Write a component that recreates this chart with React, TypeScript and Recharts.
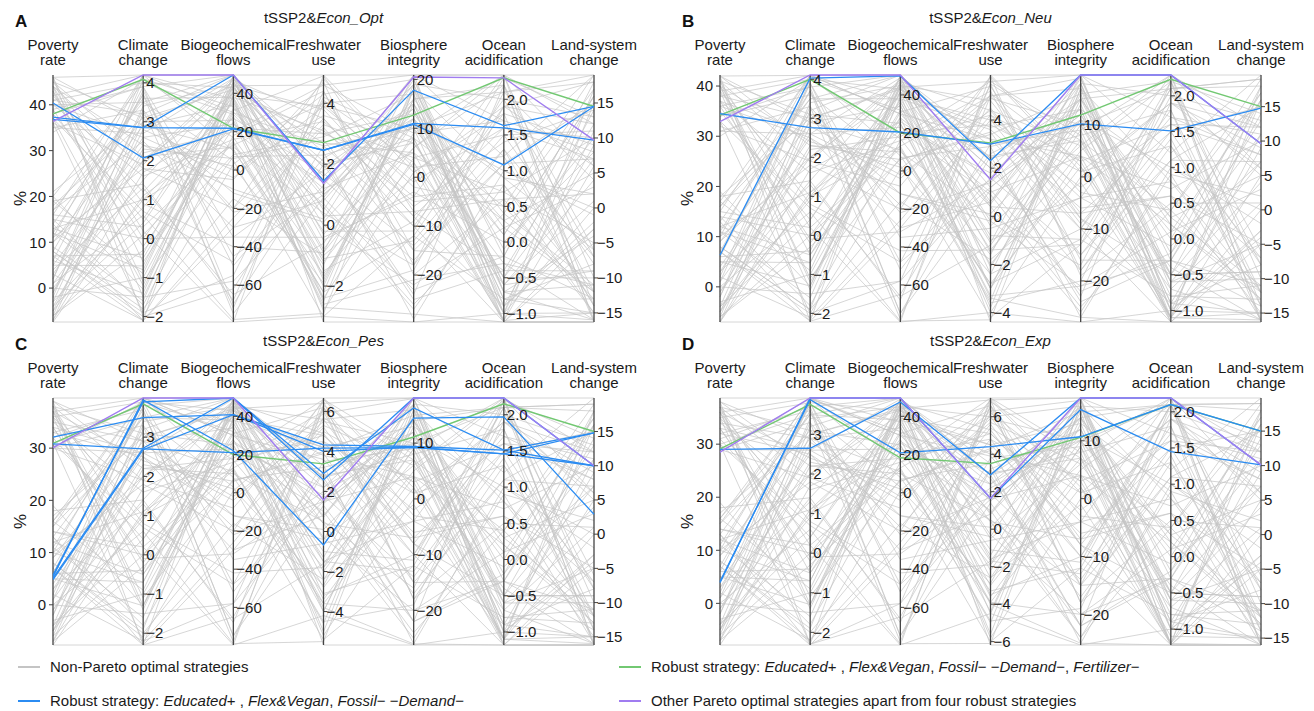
import { LineChart, Line, XAxis, YAxis, ReferenceLine, ReferenceDot } from "recharts";

const FONT = '"Liberation Sans", Arial, sans-serif';
const GRAY = "#c4c4c4";
const BLUE = "#2b8cf2";
const GREEN = "#72c872";
const PURPLE = "#a07cf0";
const AXIS = "#444";

const DIMENSIONS = [
  ["Poverty", "rate"],
  ["Climate", "change"],
  ["Biogeochemical", "flows"],
  ["Freshwater", "use"],
  ["Biosphere", "integrity"],
  ["Ocean", "acidification"],
  ["Land-system", "change"],
];
const DECIMALS = [0, 0, 0, 0, 0, 1, 0];

// axis ranges (min/max of each dimension) per scenario
const DOMAIN_OPT = [[-7.4, 46.5], [-2.14, 4.2], [-79.3, 49.6], [-3.18, 4.93], [-29.6, 20.9], [-1.12, 2.34], [-16.3, 19.0]];
const DOMAIN_NEU = [[-7.0, 42.2], [-2.22, 4.11], [-79.5, 50.5], [-4.39, 5.87], [-27.9, 19.6], [-1.16, 2.29], [-16.3, 19.6]];
const DOMAIN_PES = [[-7.7, 39.6], [-2.3, 4.0], [-79.7, 49.6], [-5.67, 6.67], [-26.2, 18.1], [-1.18, 2.23], [-16.2, 19.9]];
const DOMAIN_EXP = [[-7.85, 38.7], [-2.32, 3.92], [-79.7, 49.6], [-6.18, 7.0], [-25.3, 17.4], [-1.22, 2.19], [-16.0, 19.8]];

const OCEAN_TICKS = [-1, -0.5, 0, 0.5, 1, 1.5, 2];
const LAND_TICKS = [-15, -10, -5, 0, 5, 10, 15];
const BIOGEO_TICKS = [-60, -40, -20, 0, 20, 40];
const TICKS_OPT = [[0, 10, 20, 30, 40], [-2, -1, 0, 1, 2, 3, 4], BIOGEO_TICKS, [-2, 0, 2, 4], [-20, -10, 0, 10, 20], OCEAN_TICKS, LAND_TICKS];
const TICKS_NEU = [[0, 10, 20, 30, 40], [-2, -1, 0, 1, 2, 3, 4], BIOGEO_TICKS, [-4, -2, 0, 2, 4], [-20, -10, 0, 10], OCEAN_TICKS, LAND_TICKS];
const TICKS_PES = [[0, 10, 20, 30], [-2, -1, 0, 1, 2, 3], BIOGEO_TICKS, [-4, -2, 0, 2, 4, 6], [-20, -10, 0, 10], OCEAN_TICKS, LAND_TICKS];
const TICKS_EXP = [[0, 10, 20, 30], [-2, -1, 0, 1, 2, 3], BIOGEO_TICKS, [-6, -4, -2, 0, 2, 4, 6], [-20, -10, 0, 10], OCEAN_TICKS, LAND_TICKS];

// non-Pareto strategies (sample of the background mesh)
const GRAY_OPT = [
  [44, -1.5, 30, 1.2, 5, 0.3, -12], [41, 3.2, -20, 3.5, -8, 1.6, 10], [38, 0.5, 45, -1.8, 15, -0.8, -15],
  [45, 2.1, 12, 0.4, -18, 2.1, 4], [36, -1.9, -55, 4.2, 8, -1.0, 17], [42, 1.2, 38, -2.5, 18, 0.9, -6],
  [39, 3.9, -70, 2.0, -25, -0.4, 12], [46, -0.6, 22, 3.0, 2, 1.2, -14], [35, 2.7, 48, -0.5, -3, 0.0, 8],
  [43, 0.0, -35, 1.8, 12, -0.9, -2], [40, 3.5, 5, -3.0, -12, 1.9, 18], [37, -1.2, 41, 0.9, 19, -0.6, -9],
  [44, 1.8, -5, 4.7, -20, 0.6, 2], [34, 4.1, 33, -1.2, 6, 2.2, -16], [46, -2.0, -62, 2.6, 10, -1.1, 6],
  [18, 3.0, 26, -2.0, 16, 0.4, -11], [12, -0.8, 44, 3.8, -6, 1.4, 14], [5, 2.4, -10, 0.2, 20, -0.7, -4],
  [-3, 0.8, 36, -2.8, 1, 1.8, 9], [15, -1.7, 18, 4.4, -15, -0.2, -13], [8, 3.7, -45, 1.0, 13, 0.1, 16],
  [0, 1.5, 47, -1.5, -9, 2.0, -7], [-6, -0.3, 8, 2.9, 17, -1.0, 0], [20, 4.0, 29, 0.6, -27, 0.8, -15],
  [3, -2.1, -25, 3.3, 4, 1.5, 11], [10, 2.0, 40, -0.8, 11, -0.5, -10], [-1, 3.3, -72, 4.0, -2, 0.5, 19],
  [16, 0.3, 15, -2.2, 19, -0.9, -3], [6, -1.4, 43, 1.5, -17, 1.1, 7], [-5, 2.8, 0, 3.6, 7, -0.3, -16],
  [13, 1.0, 35, -0.2, -11, 2.3, 13], [2, 3.8, -50, 2.2, 14, -0.8, -8], [19, -0.9, 46, 0.0, -22, 0.2, 3],
  [-4, 2.2, 20, 4.6, 9, 1.7, -12], [9, -1.8, -15, -1.0, 0, -1.1, 15], [14, 3.6, 38, 3.1, -5, 0.7, -5],
  [1, 0.6, -78, -2.9, 18, -0.1, 10], [-7, 1.7, 27, 1.7, -14, 1.3, -14], [11, 4.2, 10, -1.6, 3, -0.6, 1],
  [7, -0.4, 49, 2.4, -29, 1.0, -1], [17, 2.5, -30, 0.8, 16, 2.1, 18], [-2, -1.0, 31, 4.9, -7, -0.4, -9],
  [4, 1.3, -65, -0.6, 12, 0.3, 5], [21, 3.1, 42, 2.7, 5, -1.0, -16], [-6, 0.1, 14, -2.4, -19, 1.9, 12],
  [40, 2.6, 24, 1.4, 14, -0.7, -11], [12, -1.6, 39, 3.9, -1, 1.6, 7], [45, 0.9, -40, -0.9, 8, 0.5, -13],
  [-3, 3.4, 45, 2.1, -24, 2.2, -6], [8, -2.0, 3, 4.3, 20, -0.2, 16],
  [46, 4.2, 49.6, -3.18, -29.6, -1.12, -16.3], [-7.4, -2.14, -79.3, 4.93, 20.9, 2.34, 19], [42, 4.2, 49.6, 0.5, 20.9, 2.34, 6],
  [38, 3.9, 49.6, 1.9, 8, -1.12, -16.3], [44, 0.2, -79.3, -3.0, -29.6, -1.0, -15], [-7, 3.0, 44, 4.6, 20.9, 1.2, 19],
  [2, 4.2, 30, 2.6, -10, -1.12, -16.3], [14, -2.1, 49.6, -0.3, 6, 2.34, 12], [40, 1.6, 16, 3.4, -4, 0.8, -12],
  [35, 3.3, -22, 1.1, 15, -0.6, 4], [46, 2.9, 34, -1.1, -13, 1.5, -8], [43, -1.1, 7, 2.3, 10, 0.1, 16],
  [37, 0.7, -48, 4.1, 3, -1.1, -15], [41, 4.0, 43, 1.6, 19, 2.0, 13], [39, -0.2, 25, -2.6, -21, -0.3, -11],
  [45, 3.1, -12, 0.1, 11, 1.0, 0], [36, 1.9, 47, 3.5, -8, -0.9, 9], [44, 2.4, 2, -1.9, 16, 2.2, -14],
  [-7.4, 1.1, 21, 0.7, -26, 0.4, 17], [17, 3.5, 49.6, 4.93, 2, -1.12, -16.3], [0, -1.5, -58, 1.3, 20.9, 1.7, 8],
  [10, 2.9, 11, -2.2, -12, -0.8, -13], [-4, 0.4, 41, 3.0, 13, 0.9, 2], [6, 3.9, -35, -0.4, -4, 2.34, -16.3],
  [13, -0.5, 32, 2.0, 7, -0.5, 14], [19, 1.4, -68, 4.4, -18, 1.3, -7], [-2, 4.1, 17, -1.3, 18, -1.0, 11],
  [8, -1.9, 46, 0.3, -7, 0.6, -15], [3, 2.6, -4, 3.9, 10, 2.1, 19], [15, 0.0, 28, -2.7, -28, -1.12, -3],
  [-6, 3.2, 49.6, 1.9, 15, 0.2, -12], [11, 1.8, -20, 4.8, 1, 1.9, 6], [20, -1.3, 38, -0.9, 20.9, -0.7, -16],
  [-1, 2.3, 6, 2.8, -15, 1.1, 15], [5, -0.7, 44, -1.7, 9, 2.34, -10], [12, 3.7, -75, 0.9, -23, -0.2, 18],
  [-5, 1.0, 13, 4.0, 17, -1.12, -5], [16, 4.2, 37, -2.4, 4, 0.7, 10], [7, -2.1, -30, 3.2, -10, 1.8, -16.3],
  [1, 2.0, 48, 1.0, 12, -0.5, 7],
];
const GRAY_NEU = [
  [41, -1.2, 28, 1.0, 4, 0.2, -13], [38, 3.0, -18, 4.5, -9, 1.7, 11], [35, 0.4, 46, -3.0, 14, -0.9, -15],
  [42, 2.3, 10, 0.0, -17, 2.0, 5], [33, -2.0, -58, 5.5, 7, -1.1, 18], [39, 1.0, 40, -3.8, 17, 0.8, -7],
  [36, 3.8, -75, 2.5, -24, -0.3, 13], [40, -0.5, 20, 3.8, 1, 1.3, -12], [31, 2.6, 49, -1.0, -4, -0.1, 7],
  [37, -0.1, -32, 1.5, 11, -1.0, -3], [34, 3.6, 3, -4.2, -13, 2.1, 19], [39, -1.4, 42, 0.5, 18, -0.5, -9],
  [41, 1.9, -8, 5.8, -19, 0.5, 1], [30, 4.0, 32, -2.0, 5, 2.2, -16], [42, -2.2, -65, 3.0, 9, -1.1, 5],
  [16, 3.1, 25, -3.0, 15, 0.3, -11], [11, -0.7, 45, 4.8, -7, 1.5, 15], [4, 2.5, -12, -0.2, 19, -0.6, -5],
  [-4, 0.9, 35, -4.0, 0, 1.9, 9], [14, -1.8, 16, 5.2, -16, -0.3, -14], [7, 3.7, -48, 1.2, 12, 0.0, 17],
  [-1, 1.4, 48, -2.4, -10, 2.1, -8], [-6, -0.3, 6, 3.4, 16, -1.1, 0], [17, 4.1, 30, 0.4, -26, 0.9, -16],
  [2, -2.1, -26, 4.2, 3, 1.6, 12], [9, 2.0, 41, -1.5, 10, -0.6, -10], [-2, 3.3, -78, 5.0, -3, 0.4, 19],
  [15, 0.2, 13, -3.5, 18, -1.0, -4], [5, -1.3, 44, 2.0, -18, 1.1, 7], [-5, 2.8, -2, 4.4, 6, -0.4, -16],
  [12, 1.1, 36, -0.8, -12, 2.2, 14], [1, 3.9, -52, 2.6, 13, -0.9, -8], [17, -0.9, 47, -0.2, -21, 0.1, 3],
  [-5, 2.2, 18, 5.6, 8, 1.8, -12], [8, -1.9, -16, -1.8, -1, -1.1, 16], [13, 3.5, 38, 3.6, -6, 0.6, -5],
  [0, 0.6, -79, -4.3, 17, -0.2, 11], [-7, 1.7, 26, 1.6, -15, 1.4, -14], [10, 4.1, 8, -2.8, 2, -0.7, 1],
  [6, -0.4, 50, 2.9, -27, 1.0, -2], [36, 2.5, -30, 0.6, 15, 2.1, 18], [-3, -1.0, 31, 5.4, -8, -0.5, -9],
  [3, 1.3, -66, -1.2, 11, 0.3, 5], [18, 3.0, 43, 3.2, 4, -1.1, -16], [-6, 0.0, 12, -3.6, -20, 1.9, 12],
  [37, 2.6, 23, 1.8, 13, -0.8, -11], [11, -1.6, 39, 4.0, -2, 1.6, 8], [40, 0.8, -42, -1.4, 7, 0.4, -13],
  [-4, 3.4, 45, 2.3, -23, 2.2, -6], [7, -2.0, 1, 5.0, 19, -0.3, 16],
  [42, 4.1, 50.5, -4.39, -27.9, -1.16, -16.3], [-7, -2.22, -79.5, 5.87, 19.6, 2.29, 19.6], [39, 4.1, 50.5, 0.6, 19.6, 2.29, 6],
  [34, 3.8, 50.5, 2.4, 8, -1.16, -16.3], [41, 0.2, -79.5, -4.0, -27.9, -1.0, -15], [-7, 3.0, 44, 5.6, 19.6, 1.2, 19.6],
  [2, 4.1, 30, 3.2, -10, -1.16, -16.3], [13, -2.2, 50.5, -0.4, 6, 2.29, 12], [37, 1.6, 16, 4.2, -4, 0.8, -12],
  [31, 3.3, -22, 1.4, 15, -0.6, 4], [42, 2.9, 34, -1.4, -13, 1.5, -8], [40, -1.1, 7, 2.9, 10, 0.1, 16],
  [33, 0.7, -48, 5.1, 3, -1.1, -15], [38, 4.0, 43, 2.0, 18, 2.0, 13], [36, -0.2, 25, -3.3, -21, -0.3, -11],
  [41, 3.1, -12, 0.1, 11, 1.0, 0], [32, 1.9, 47, 4.4, -8, -0.9, 9], [40, 2.4, 2, -2.4, 16, 2.2, -14],
  [-7, 1.1, 21, 0.9, -25, 0.4, 17], [16, 3.5, 50.5, 5.87, 2, -1.16, -16.3], [0, -1.5, -58, 1.6, 19.6, 1.7, 8],
  [9, 2.9, 11, -2.8, -12, -0.8, -13], [-4, 0.4, 41, 3.7, 13, 0.9, 2], [6, 3.9, -35, -0.5, -4, 2.29, -16.3],
  [12, -0.5, 32, 2.5, 7, -0.5, 14], [18, 1.4, -68, 5.5, -18, 1.3, -7], [-2, 4.0, 17, -1.6, 18, -1.0, 11],
  [8, -1.9, 46, 0.4, -7, 0.6, -15], [3, 2.6, -4, 4.9, 10, 2.1, 19], [14, 0.0, 28, -3.4, -27, -1.16, -3],
  [-6, 3.2, 50.5, 2.4, 15, 0.2, -12], [10, 1.8, -20, 5.8, 1, 1.9, 6], [19, -1.3, 38, -1.1, 19.6, -0.7, -16],
  [-1, 2.3, 6, 3.5, -15, 1.1, 15], [5, -0.7, 44, -2.1, 9, 2.29, -10], [11, 3.7, -75, 1.1, -22, -0.2, 18],
  [-5, 1.0, 13, 5.0, 17, -1.16, -5], [15, 4.1, 37, -3.0, 4, 0.7, 10], [7, -2.2, -30, 4.0, -10, 1.8, -16.3],
  [1, 2.0, 48, 1.2, 12, -0.5, 7],
];
const GRAY_PES = [
  [38, -1.3, 27, 1.5, 4, 0.2, -13], [35, 2.9, -18, 5.2, -8, 1.7, 11], [32, 0.4, 46, -4.0, 13, -0.9, -15],
  [39, 2.2, 10, 0.5, -16, 2.0, 5], [31, -2.2, -58, 6.3, 7, -1.1, 18], [36, 1.0, 40, -5.0, 16, 0.8, -7],
  [33, 3.7, -75, 3.0, -22, -0.3, 13], [37, -0.5, 20, 4.5, 1, 1.3, -12], [30, 2.6, 49, -1.5, -4, -0.1, 7],
  [34, -0.1, -32, 2.0, 10, -1.0, -3], [31, 3.5, 3, -5.4, -12, 2.1, 19], [36, -1.4, 42, 0.8, 17, -0.5, -9],
  [38, 1.9, -8, 6.5, -18, 0.5, 1], [30, 3.9, 32, -2.8, 5, 2.2, -16], [39, -2.3, -65, 3.5, 9, -1.1, 5],
  [15, 3.1, 25, -4.0, 14, 0.3, -11], [10, -0.7, 45, 5.6, -7, 1.5, 15], [4, 2.5, -12, -0.4, 18, -0.6, -5],
  [-4, 0.9, 35, -5.2, 0, 1.9, 9], [13, -1.8, 16, 6.0, -15, -0.3, -14], [7, 3.6, -48, 1.5, 11, 0.0, 17],
  [-1, 1.4, 48, -3.2, -10, 2.1, -8], [-7, -0.3, 6, 4.0, 15, -1.1, 0], [16, 4.0, 30, 0.4, -25, 0.9, -16],
  [2, -2.2, -26, 5.0, 3, 1.6, 12], [9, 2.0, 41, -2.0, 9, -0.6, -10], [-2, 3.3, -78, 6.2, -3, 0.4, 19],
  [14, 0.2, 13, -4.6, 17, -1.0, -4], [5, -1.3, 44, 2.5, -17, 1.1, 7], [-5, 2.8, -2, 5.3, 6, -0.4, -16],
  [12, 1.1, 36, -1.0, -11, 2.2, 14], [1, 3.8, -52, 3.0, 12, -0.9, -8], [16, -0.9, 47, -0.3, -20, 0.1, 3],
  [-5, 2.2, 18, 6.6, 8, 1.8, -12], [8, -2.0, -16, -2.4, -1, -1.1, 16], [13, 3.5, 38, 4.2, -6, 0.6, -5],
  [0, 0.6, -79, -5.5, 16, -0.2, 11], [-7, 1.7, 26, 1.8, -14, 1.4, -14], [10, 4.0, 8, -3.6, 2, -0.7, 1],
  [6, -0.4, 49, 3.3, -26, 1.0, -2], [33, 2.5, -30, 0.8, 14, 2.1, 18], [-3, -1.0, 31, 6.2, -8, -0.5, -9],
  [3, 1.3, -66, -1.6, 10, 0.3, 5], [17, 3.0, 43, 3.8, 4, -1.1, -16], [-6, 0.0, 12, -4.5, -19, 1.9, 12],
  [34, 2.6, 23, 2.2, 12, -0.8, -11], [11, -1.6, 39, 4.8, -2, 1.6, 8], [37, 0.8, -42, -1.8, 7, 0.4, -13],
  [-4, 3.4, 45, 2.7, -22, 2.2, -6], [7, -2.1, 1, 5.9, 18, -0.3, 16],
  [39.6, 4.0, 49.6, -5.67, -26.2, -1.18, -16.2], [-7.7, -2.3, -79.7, 6.67, 18.1, 2.23, 19.9], [37, 4.0, 49.6, 0.7, 18.1, 2.23, 6],
  [32, 3.8, 49.6, 2.7, 8, -1.18, -16.2], [38, 0.2, -79.7, -4.2, -26.2, -1.0, -15], [-7, 3.0, 44, 6.4, 18.1, 1.2, 19.9],
  [2, 4.0, 30, 3.6, -10, -1.18, -16.2], [13, -2.3, 49.6, -0.4, 6, 2.23, 12], [35, 1.6, 16, 4.8, -4, 0.8, -12],
  [30, 3.3, -22, 1.5, 14, -0.6, 4], [39, 2.9, 34, -1.5, -13, 1.5, -8], [37, -1.1, 7, 3.2, 10, 0.1, 16],
  [31, 0.7, -48, 5.7, 3, -1.1, -15], [36, 3.9, 43, 2.2, 17, 2.0, 13], [34, -0.2, 25, -3.6, -20, -0.3, -11],
  [38, 3.1, -12, 0.1, 11, 1.0, 0], [30, 1.9, 47, 4.9, -8, -0.9, 9], [37, 2.4, 2, -2.7, 15, 2.1, -14],
  [-7.7, 1.1, 21, 1.0, -24, 0.4, 17], [16, 3.5, 49.6, 6.67, 2, -1.18, -16.2], [0, -1.5, -58, 1.8, 18.1, 1.7, 8],
  [9, 2.9, 11, -3.1, -12, -0.8, -13], [-4, 0.4, 41, 4.2, 13, 0.9, 2], [6, 3.9, -35, -0.6, -4, 2.23, -16.2],
  [12, -0.5, 32, 2.8, 7, -0.5, 14], [18, 1.4, -68, 6.2, -18, 1.3, -7], [-2, 3.95, 17, -1.8, 17, -1.0, 11],
  [8, -1.9, 46, 0.4, -7, 0.6, -15], [3, 2.6, -4, 5.5, 10, 2.1, 19], [14, 0.0, 28, -3.8, -26, -1.18, -3],
  [-6, 3.2, 49.6, 2.7, 14, 0.2, -12], [10, 1.8, -20, 6.6, 1, 1.9, 6], [19, -1.3, 38, -1.3, 18.1, -0.7, -16],
  [-1, 2.3, 6, 3.9, -15, 1.1, 15], [5, -0.7, 44, -2.4, 9, 2.23, -10], [11, 3.7, -75, 1.3, -22, -0.2, 18],
  [-5, 1.0, 13, 5.6, 16, -1.18, -5], [15, 4.0, 37, -3.4, 4, 0.7, 10], [7, -2.3, -30, 4.5, -10, 1.8, -16.2],
  [1, 2.0, 48, 1.4, 12, -0.5, 7],
];
const GRAY_EXP = [
  [37, -1.3, 27, 1.6, 4, 0.2, -13], [34, 2.9, -18, 5.6, -8, 1.7, 11], [31, 0.4, 46, -4.5, 13, -0.9, -15],
  [38, 2.2, 10, 0.5, -15, 2.0, 5], [30, -2.3, -58, 6.8, 7, -1.2, 18], [35, 1.0, 40, -5.6, 16, 0.8, -7],
  [32, 3.6, -75, 3.2, -22, -0.3, 13], [36, -0.5, 20, 4.8, 1, 1.3, -12], [29, 2.6, 49, -1.6, -4, -0.1, 7],
  [33, -0.1, -32, 2.2, 10, -1.0, -3], [30, 3.5, 3, -6.0, -12, 2.1, 19], [35, -1.4, 42, 0.9, 16, -0.5, -9],
  [37, 1.9, -8, 6.9, -18, 0.5, 1], [29, 3.9, 32, -3.0, 5, 2.1, -16], [38, -2.3, -65, 3.8, 9, -1.2, 5],
  [15, 3.1, 25, -4.4, 14, 0.3, -11], [10, -0.7, 45, 6.0, -7, 1.5, 15], [4, 2.5, -12, -0.4, 17, -0.6, -5],
  [-4, 0.9, 35, -5.8, 0, 1.9, 9], [13, -1.8, 16, 6.4, -15, -0.3, -14], [7, 3.6, -48, 1.6, 11, 0.0, 17],
  [-1, 1.4, 48, -3.5, -10, 2.1, -8], [-7, -0.3, 6, 4.3, 15, -1.2, 0], [16, 3.9, 30, 0.4, -24, 0.9, -16],
  [2, -2.2, -26, 5.4, 3, 1.6, 12], [9, 2.0, 41, -2.2, 9, -0.6, -10], [-2, 3.3, -78, 6.6, -3, 0.4, 19],
  [14, 0.2, 13, -5.0, 17, -1.0, -4], [5, -1.3, 44, 2.7, -17, 1.1, 7], [-5, 2.8, -2, 5.7, 6, -0.4, -16],
  [12, 1.1, 36, -1.1, -11, 2.1, 14], [1, 3.8, -52, 3.2, 12, -0.9, -8], [16, -0.9, 47, -0.3, -20, 0.1, 3],
  [-5, 2.2, 18, 7.0, 8, 1.8, -12], [8, -2.0, -16, -2.6, -1, -1.2, 16], [13, 3.5, 38, 4.5, -6, 0.6, -5],
  [0, 0.6, -79, -6.1, 16, -0.2, 11], [-7, 1.7, 26, 1.9, -14, 1.4, -14], [10, 3.9, 8, -3.9, 2, -0.7, 1],
  [6, -0.4, 49, 3.5, -25, 1.0, -2], [32, 2.5, -30, 0.8, 14, 2.1, 18], [-3, -1.0, 31, 6.6, -8, -0.5, -9],
  [3, 1.3, -66, -1.7, 10, 0.3, 5], [17, 3.0, 43, 4.0, 4, -1.2, -16], [-6, 0.0, 12, -4.9, -19, 1.9, 12],
  [33, 2.6, 23, 2.4, 12, -0.8, -11], [11, -1.6, 39, 5.1, -2, 1.6, 8], [36, 0.8, -42, -1.9, 7, 0.4, -13],
  [-4, 3.4, 45, 2.9, -22, 2.1, -6], [7, -2.2, 1, 6.3, 17, -0.3, 16],
  [38.7, 3.92, 49.6, -6.18, -25.3, -1.22, -16.0], [-7.85, -2.32, -79.7, 7.0, 17.4, 2.19, 19.8], [36, 3.92, 49.6, 0.8, 17.4, 2.19, 6],
  [31, 3.7, 49.6, 2.9, 8, -1.22, -16.0], [37, 0.2, -79.7, -4.5, -25.3, -1.0, -15], [-7, 3.0, 44, 6.9, 17.4, 1.2, 19.8],
  [2, 3.92, 30, 3.9, -10, -1.22, -16.0], [13, -2.3, 49.6, -0.5, 6, 2.19, 12], [34, 1.6, 16, 5.1, -4, 0.8, -12],
  [29, 3.3, -22, 1.7, 14, -0.6, 4], [38, 2.9, 34, -1.7, -13, 1.5, -8], [36, -1.1, 7, 3.5, 10, 0.1, 16],
  [30, 0.7, -48, 6.2, 3, -1.1, -15], [35, 3.8, 43, 2.4, 16, 2.0, 13], [33, -0.2, 25, -3.9, -20, -0.3, -11],
  [37, 3.1, -12, 0.1, 11, 1.0, 0], [29, 1.9, 47, 5.3, -8, -0.9, 9], [36, 2.4, 2, -2.9, 15, 2.1, -14],
  [-7.85, 1.1, 21, 1.0, -24, 0.4, 17], [16, 3.5, 49.6, 7.0, 2, -1.22, -16.0], [0, -1.5, -58, 1.9, 17.4, 1.7, 8],
  [9, 2.9, 11, -3.3, -12, -0.8, -13], [-4, 0.4, 41, 4.5, 13, 0.9, 2], [6, 3.8, -35, -0.6, -4, 2.19, -16.0],
  [12, -0.5, 32, 3.0, 7, -0.5, 14], [18, 1.4, -68, 6.6, -18, 1.3, -7], [-2, 3.9, 17, -1.9, 16, -1.0, 11],
  [8, -1.9, 46, 0.4, -7, 0.6, -15], [3, 2.6, -4, 5.9, 10, 2.1, 19], [14, 0.0, 28, -4.0, -25, -1.22, -3],
  [-6, 3.2, 49.6, 2.9, 14, 0.2, -12], [10, 1.8, -20, 6.9, 1, 1.9, 6], [19, -1.3, 38, -1.4, 17.4, -0.7, -16],
  [-1, 2.3, 6, 4.2, -15, 1.1, 15], [5, -0.7, 44, -2.6, 9, 2.19, -10], [11, 3.7, -75, 1.4, -22, -0.2, 18],
  [-5, 1.0, 13, 6.0, 16, -1.22, -5], [15, 3.92, 37, -3.6, 4, 0.7, 10], [7, -2.32, -30, 4.8, -10, 1.8, -16.0],
  [1, 2.0, 48, 1.5, 12, -0.5, 7],
];

// robust strategy: Educated+, Flex&Vegan, Fossil--Demand-
const BLUE_OPT = [[40.4, 2.07, 21.5, 2.46, 10.8, 1.08, 14.5], [37.3, 2.85, 49.6, 1.45, 17.8, 1.63, 14.5], [36.8, 2.85, 21.8, 2.46, 11.0, 1.6, 9.7]];
const BLUE_NEU = [[6.3, 4.03, 50.0, 2.31, 19.6, 2.29, 9.6], [34.5, 2.76, 20.5, 3.0, 10.2, 1.51, 14.8]];
const BLUE_PES = [
  [32.1, 3.5, 40.9, 4.33, 9.4, 1.51, 14.8], [30.8, 2.7, 21.0, 4.17, 9.2, 1.46, 10.0], [5.7, 3.9, 49.6, 2.58, 18.1, 2.23, 10.0],
  [5.1, 2.72, 49.6, 2.9, 16.3, 1.51, 10.0], [5.4, 3.95, 22.0, -0.67, 14.5, 1.97, 2.9], [4.8, 2.68, 40.9, 4.0, 9.3, 1.46, 14.8],
];
const BLUE_EXP = [[29.0, 2.65, 47.5, 2.9, 17.4, 2.19, 10.1], [4.1, 3.88, 20.9, 4.4, 10.7, 2.1, 15.0], [3.9, 3.92, 49.6, 1.65, 15.4, 1.45, 10.1]];

// robust strategy: Educated+, Flex&Vegan, Fossil--Demand-, Fertilizer-
const GREEN_OPT = [[38.0, 4.09, 21.8, 2.71, 12.7, 2.3, 14.5]];
const GREEN_NEU = [[34.2, 4.0, 20.0, 3.05, 11.9, 2.23, 15.0]];
const GREEN_PES = [[30.9, 3.85, 20.0, 3.38, 11.1, 2.15, 15.0]];
const GREEN_EXP = [[29.1, 3.76, 18.3, 3.5, 10.6, 2.1, 15.0]];

// other Pareto optimal strategies
const PURPLE_OPT = [[36.4, 4.2, 49.6, 1.37, 20.5, 2.3, 9.7]];
const PURPLE_NEU = [[32.9, 4.11, 50.5, 1.52, 19.6, 2.29, 9.6]];
const PURPLE_PES = [[30.1, 4.0, 49.6, 1.58, 18.1, 2.23, 10.0]];
const PURPLE_EXP = [[28.5, 3.92, 49.6, 1.65, 17.4, 2.19, 10.1]];

const fmt = (v: number, dec: number) => (v < 0 ? "\u2212" : "") + Math.abs(v).toFixed(dec);

const W = 647;
const H = 330;
const MARGIN = { top: 75, right: 53, bottom: 8, left: 53 };

const Panel = ({ letter, scenario, domains, ticks, gray, blue, green, purple, left, top }: any) => {
  const norm = (v: number, i: number) => {
    const [lo, hi] = domains[i];
    return (Math.min(hi, Math.max(lo, v)) - lo) / (hi - lo);
  };
  const groups: [string, number[][]][] = [["g", gray], ["n", green], ["b", blue], ["p", purple]];
  const rows = DIMENSIONS.map((_, i) => {
    const row: any = { x: i };
    groups.forEach(([k, lines]) => lines.forEach((l, j) => { row[k + j] = norm(l[i], i); }));
    return row;
  });
  const series = (k: string, lines: number[][], color: string, width: number, opacity = 1) =>
    lines.map((_, j) => (
      <Line
        key={k + j}
        dataKey={k + j}
        stroke={color}
        strokeWidth={width}
        strokeOpacity={opacity}
        dot={false}
        activeDot={false}
        isAnimationActive={false}
      />
    ));

  return (
    <div style={{ position: "absolute", left, top }}>
      <LineChart width={W} height={H} data={rows} margin={MARGIN}>
        <XAxis type="number" dataKey="x" domain={[0, 6]} hide />
        <YAxis type="number" domain={[0, 1]} hide />
        {series("g", gray, GRAY, 1, 0.7)}
        {DIMENSIONS.map((_, i) => (
          <ReferenceLine key={"ax" + i} x={i} stroke={AXIS} strokeWidth={1.3} />
        ))}
        {series("n", green, GREEN, 1.4)}
        {series("b", blue, BLUE, 1.3)}
        {series("p", purple, PURPLE, 1.4)}
        {DIMENSIONS.map((name, i) => (
          <ReferenceDot
            key={"name" + i}
            x={i}
            y={1}
            ifOverflow="visible"
            shape={(s: any) => (
              <text x={s.cx} y={s.cy - 25} textAnchor="middle" fontSize={15} fontFamily={FONT} fill="#1a1a1a">
                <tspan x={s.cx}>{name[0]}</tspan>
                <tspan x={s.cx} dy={15}>{name[1]}</tspan>
              </text>
            )}
          />
        ))}
        {ticks.map((list: number[], i: number) =>
          list.map((t) => (
            <ReferenceDot
              key={"t" + i + "_" + t}
              x={i}
              y={norm(t, i)}
              ifOverflow="visible"
              shape={(s: any) =>
                i === 0 ? (
                  <g>
                    <line x1={s.cx - 4} x2={s.cx} y1={s.cy} y2={s.cy} stroke={AXIS} strokeWidth={1} />
                    <text x={s.cx - 7} y={s.cy} dy="0.35em" textAnchor="end" fontSize={15} fontFamily={FONT} fill="#1a1a1a">
                      {fmt(t, DECIMALS[i])}
                    </text>
                  </g>
                ) : (
                  <g>
                    <line x1={s.cx} x2={s.cx + 4} y1={s.cy} y2={s.cy} stroke={AXIS} strokeWidth={1} />
                    <text x={s.cx + 3} y={s.cy} dy="0.35em" textAnchor="start" fontSize={15} fontFamily={FONT} fill="#1a1a1a">
                      {fmt(t, DECIMALS[i])}
                    </text>
                  </g>
                )
              }
            />
          ))
        )}
        <ReferenceDot
          x={3}
          y={1}
          ifOverflow="visible"
          shape={(s: any) => (
            <text x={s.cx} y={s.cy - 52} textAnchor="middle" fontSize={15} fontFamily={FONT} fill="#1a1a1a">
              {"tSSP2&"}
              <tspan fontStyle="italic">{"Econ_" + scenario}</tspan>
            </text>
          )}
        />
        <ReferenceDot
          x={0}
          y={1}
          ifOverflow="visible"
          shape={(s: any) => (
            <text x={s.cx - 38} y={s.cy - 48} fontSize={17} fontWeight="bold" fontFamily={FONT} fill="#111">
              {letter}
            </text>
          )}
        />
        <ReferenceDot
          x={0}
          y={0.5}
          ifOverflow="visible"
          shape={(s: any) => (
            <text
              x={s.cx - 33}
              y={s.cy}
              dy="0.35em"
              textAnchor="middle"
              fontSize={17}
              fontFamily={FONT}
              fill="#1a1a1a"
              transform={`rotate(-90 ${s.cx - 33} ${s.cy})`}
            >
              %
            </text>
          )}
        />
      </LineChart>
    </div>
  );
};

const LEGEND = [
  { color: GRAY, x: 18, y: 667, label: <>Non-Pareto optimal strategies</> },
  {
    color: BLUE,
    x: 18,
    y: 701,
    label: (
      <>
        Robust strategy: <i>Educated</i>+ , <i>Flex&amp;Vegan</i>, <i>Fossil</i>− −<i>Demand</i>−
      </>
    ),
  },
  {
    color: GREEN,
    x: 619,
    y: 667,
    label: (
      <>
        Robust strategy: <i>Educated</i>+ , <i>Flex&amp;Vegan</i>, <i>Fossil</i>− −<i>Demand</i>−, <i>Fertilizer</i>−
      </>
    ),
  },
  { color: PURPLE, x: 619, y: 701, label: <>Other Pareto optimal strategies apart from four robust strategies</> },
];

export default function App() {
  return (
    <div
      style={{
        position: "absolute",
        left: 0,
        top: 0,
        width: 1314,
        height: 711,
        overflow: "hidden",
        background: "#fff",
        fontFamily: FONT,
        color: "#1a1a1a",
      }}
    >
      <Panel letter="A" scenario="Opt" domains={DOMAIN_OPT} ticks={TICKS_OPT} gray={GRAY_OPT} blue={BLUE_OPT} green={GREEN_OPT} purple={PURPLE_OPT} left={0} top={0} />
      <Panel letter="B" scenario="Neu" domains={DOMAIN_NEU} ticks={TICKS_NEU} gray={GRAY_NEU} blue={BLUE_NEU} green={GREEN_NEU} purple={PURPLE_NEU} left={667} top={0} />
      <Panel letter="C" scenario="Pes" domains={DOMAIN_PES} ticks={TICKS_PES} gray={GRAY_PES} blue={BLUE_PES} green={GREEN_PES} purple={PURPLE_PES} left={0} top={323} />
      <Panel letter="D" scenario="Exp" domains={DOMAIN_EXP} ticks={TICKS_EXP} gray={GRAY_EXP} blue={BLUE_EXP} green={GREEN_EXP} purple={PURPLE_EXP} left={667} top={323} />
      {LEGEND.map((item, i) => (
        <div key={i}>
          <div style={{ position: "absolute", left: item.x, top: item.y - 1, width: 22, height: 2, background: item.color }} />
          <div style={{ position: "absolute", left: item.x + 32, top: item.y - 10, fontSize: 15, lineHeight: "20px", whiteSpace: "nowrap" }}>
            {item.label}
          </div>
        </div>
      ))}
    </div>
  );
}
